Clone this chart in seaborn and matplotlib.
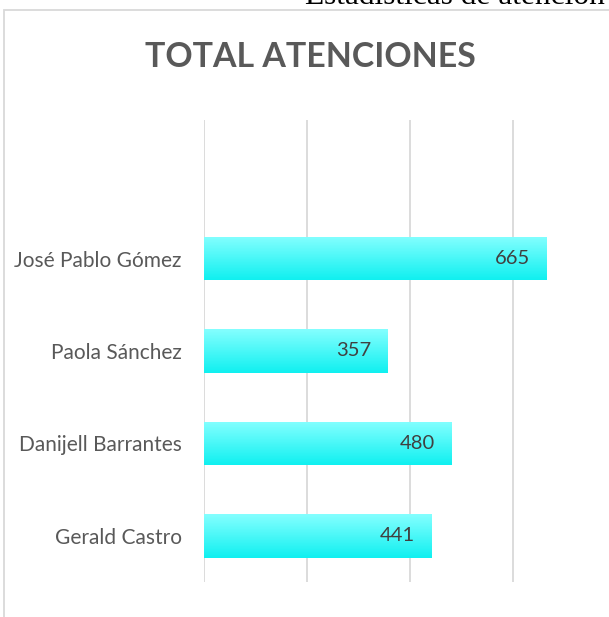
import numpy as np
import matplotlib
matplotlib.use("Agg")
import matplotlib.pyplot as plt
from matplotlib.colors import LinearSegmentedColormap
from matplotlib.patches import Rectangle
import seaborn as sns

# ---- data ----
names = ["José Pablo Gómez", "Paola Sánchez", "Danijell Barrantes", "Gerald Castro"]
values = [665, 357, 480, 441]
xticks = [0, 200, 400, 600, 800]
title = "TOTAL ATENCIONES"
page_text = "Estadísticas de atención"

sns.set_theme(style="white")
plt.rcParams["font.family"] = ["Lato", "DejaVu Sans"]

W, H = 609, 617
fig = plt.figure(figsize=(W / 100, H / 100), dpi=100)
ax = fig.add_axes([204 / W, 35 / H, 412 / W, 462 / H])

sns.barplot(x=values, y=names, orient="h", color="#40F8F8", width=0.47, ax=ax,
            edgecolor="none", linewidth=0)

cmap = LinearSegmentedColormap.from_list("g", ["#84FFFF", "#10F0F0"])
grad = np.linspace(0, 1, 100).reshape(-1, 1)
for p in ax.patches:
    x0, y0, w, h = p.get_x(), p.get_y(), p.get_width(), p.get_height()
    im = ax.imshow(grad, extent=(x0, x0 + w, y0 + h, y0), cmap=cmap, aspect="auto",
                   origin="upper", zorder=2, interpolation="bicubic")
    im.set_clip_path(p)

for i, v in enumerate(values):
    ax.annotate(str(v), xy=(v, i), xytext=(-12, 0), textcoords="offset points",
                ha="right", va="center", fontsize=14.5, color="#404040", zorder=5)

ax.set_xlim(0, 800)
ax.set_ylim(3.5, -1.5)
ax.set_xticks(xticks)
ax.set_xticklabels([])
ax.xaxis.grid(True, color="#D9D9D9", linewidth=1.3, zorder=0)
ax.set_axisbelow(True)
ax.yaxis.grid(False)
for s in ax.spines.values():
    s.set_visible(False)
ax.tick_params(axis="y", length=0, pad=16, labelsize=15, labelcolor="#595959")
ax.tick_params(axis="x", length=0)
ax.set_xlabel("")
ax.set_ylabel("")
ax.set_facecolor("none")

fig.text(310 / W, 1 - 57 / H, title, ha="center", va="center", fontsize=24.4,
         fontweight="bold", color="#595959")
fig.text(305 / W, 1 - 4.5 / H, page_text, ha="left", va="baseline", fontsize=22.6,
         family="Liberation Serif", color="#000000")
fig.patches.append(Rectangle((3.5 / W, -0.1), 2, 1.1 - 10 / H, transform=fig.transFigure,
                             fill=False, edgecolor="#D9D9D9", linewidth=1.3))

fig.savefig("out.png", dpi=100)
